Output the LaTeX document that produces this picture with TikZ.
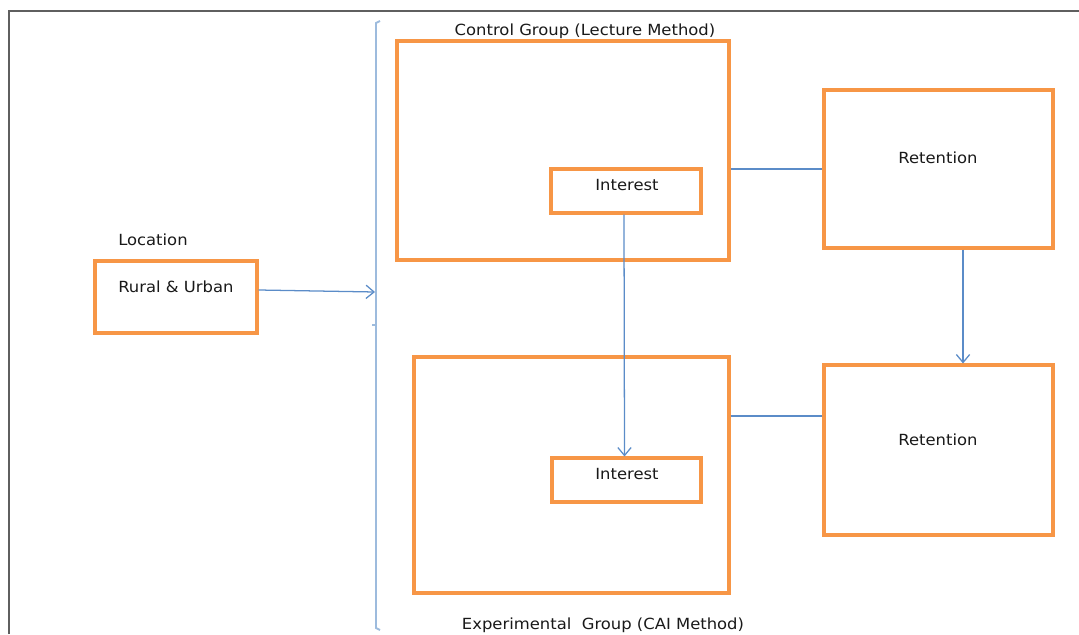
\documentclass[tikz,border=0pt]{standalone}
\usepackage{fontspec}
\setmainfont{DejaVu Sans}[FakeStretch=1.07]
\usepackage{tikz}
\usetikzlibrary{arrows.meta,positioning}
\definecolor{boxorange}{HTML}{F79646}
\definecolor{linkblue}{HTML}{5B8CC8}
\definecolor{bracketblue}{HTML}{9DBBDD}
\definecolor{framegray}{HTML}{5F5F5F}
\tikzstyle{obox}=[draw=boxorange,line width=2.3pt,inner sep=0pt]
\tikzstyle{link}=[draw=linkblue,line width=0.95pt]
\tikzstyle{arrow}=[link,-{Straight Barb[length=6pt,width=10pt]}]
\tikzstyle{lbl}=[font=\fontsize{11.5}{13}\selectfont,inner sep=0pt,text=black!90]

\begin{document}
\begin{tikzpicture}[x=0.75pt,y=-0.75pt]
    \useasboundingbox (0,0) rectangle (1079,635);
    \draw[framegray,line width=1.1pt] (9,634) -- (9,11) -- (1079,11);

    % boxes
    \node (loc)  [obox, minimum width=121.5pt,  minimum height=54pt]    at (176,297)   {};
    \node (ctrl) [obox, minimum width=249pt,    minimum height=164.25pt] at (563,150.5) {};
    \node (intA) [obox, minimum width=112.5pt,  minimum height=33pt]    at (626,191)   {};
    \node (retA) [obox, minimum width=171.75pt, minimum height=118.5pt] at (938.5,169) {};
    \node (expt) [obox, minimum width=236.25pt, minimum height=177pt]   at (571.5,475) {};
    \node (intB) [obox, minimum width=111.75pt, minimum height=33pt]    at (626.5,480) {};
    \node (retB) [obox, minimum width=171.75pt, minimum height=127.5pt] at (938.5,450) {};

    % texts
    \node (locT)  [lbl, anchor=west] at (118,240) {Location};
    \node (ruT)   [lbl, anchor=west] at (118,287) {Rural \& Urban};
    \node (ctrlT) [lbl] at (585,31)  {Control Group (Lecture Method)};
    \node (exptT) [lbl] at (603,625) {Experimental \ Group (CAI Method)};
    \node (intAT) [lbl] at (627,185) {Interest};
    \node (intBT) [lbl] at (627,474) {Interest};
    \node (retAT) [lbl] at (938,158) {Retention};
    \node (retBT) [lbl] at (938,440) {Retention};

    % bracket
    \coordinate (brk) at (375,292);
    \draw[bracketblue,line width=1.4pt] (380,21) -- (376,23) -- (376,628) -- (380,630);
    \draw[bracketblue,line width=1.4pt] (372,325) -- (376,325);

    \draw[arrow] ([yshift=5.25pt]loc.east) -- (brk);
    \draw[link] (ctrl.east |- retA.west) -- (retA.west);
    \draw[link] (expt.east |- 0,416) -- ([yshift=25.5pt]retB.west);
    \draw[arrow] ([xshift=-1.5pt]intA.south) -- ([xshift=-1.5pt]intB.north);
    \draw[arrow] ([xshift=18.4pt]retA.south) -- ([xshift=18.4pt]retB.north);
\end{tikzpicture}
\end{document}
